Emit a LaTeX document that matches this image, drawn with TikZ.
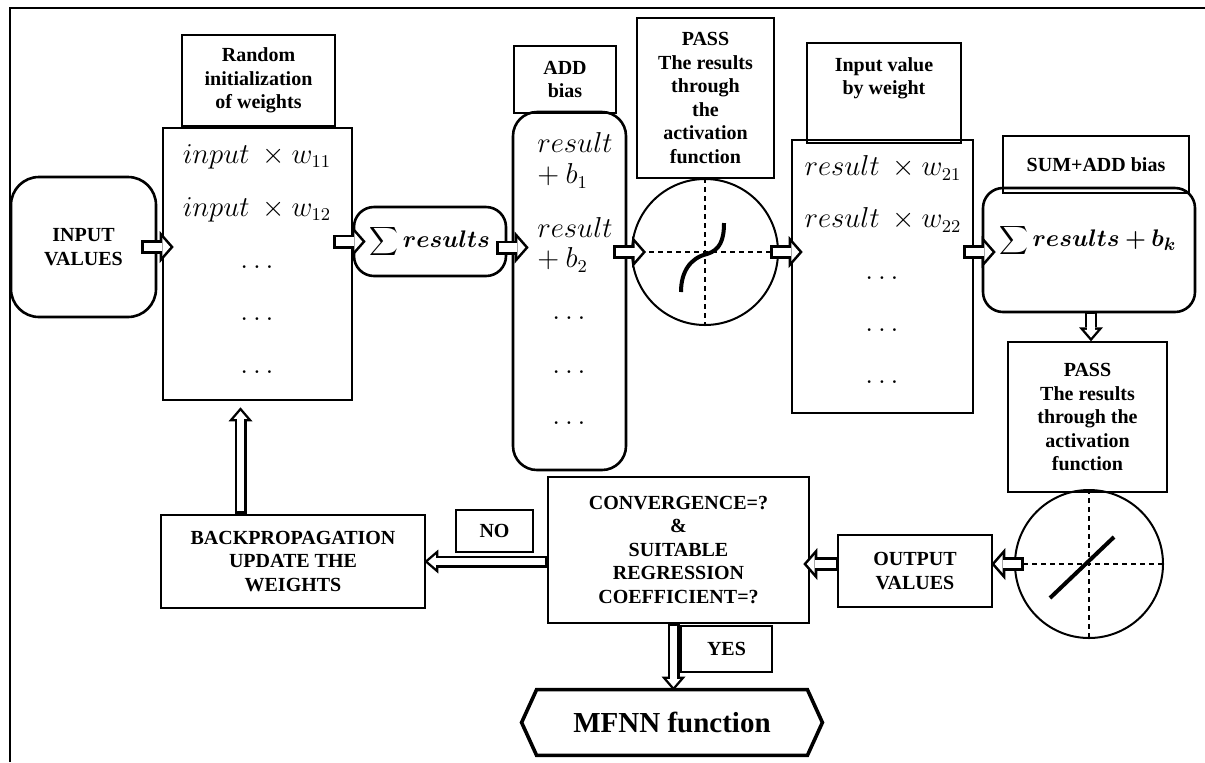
\documentclass[tikz,border=0pt]{standalone}
\usepackage{fontspec}
\setmainfont{Liberation Serif}
\usepackage{bm}
\usetikzlibrary{positioning,calc,arrows.meta}

% hollow block arrow: outer black, inner white
\newcommand{\harrow}[3]{\draw[#1] #2 -- #3; \draw[#1in] #2 -- #3;}

\begin{document}
\begin{tikzpicture}[x=0.5pt,y=-0.5pt]
\tikzstyle{lbl}=[draw,line width=0.65pt,align=center,inner sep=0pt,font=\fontsize{10}{11.75}\selectfont\bfseries]
\tikzstyle{blk}=[draw,line width=1.3pt,align=center,inner sep=0pt,font=\fontsize{10}{11.75}\selectfont\bfseries]
\tikzstyle{rblk}=[blk,rounded corners=10pt]
\tikzstyle{mth}=[inner sep=0pt,font=\fontsize{13.5}{16}\selectfont]
\tikzstyle{actv}=[circle,draw,line width=1pt,inner sep=0pt]
\tikzstyle{axis}=[line width=0.7pt,dash pattern=on 2.5pt off 2pt]
\tikzstyle{bigarr}=[line width=7pt,-{Triangle[length=7pt,width=16pt,line width=0pt]}]
\tikzstyle{bigarrin}=[white,line width=4.4pt,shorten <=1.3pt,shorten >=1.73pt,-{Triangle[length=3.97pt,width=9.07pt,line width=0pt]}]
\tikzstyle{thinarr}=[line width=6pt,-{Triangle[length=7pt,width=12pt,line width=0pt]}]
\tikzstyle{thinarrin}=[white,line width=3.6pt,shorten <=1.2pt,shorten >=1.84pt,-{Triangle[length=3.96pt,width=6.79pt,line width=0pt]}]
\useasboundingbox (0,0) rectangle (1205,762);
%%%%%%%%%%%%%%%%%%%%%%%%%%%%%%%%%%%%%%%%%%%%%%%%%%%%%%%%%%%%%%%%%%%%%%%%%%%%%%%%%%%%%%%%
%% Frame
%%%%%%%%%%%%%%%%%%%%%%%%%%%%%%%%%%%%%%%%%%%%%%%%%%%%%%%%%%%%%%%%%%%%%%%%%%%%%%%%%%%%%%%%
\draw[line width=1pt] (10,762) -- (10,8) -- (1205,8);
%%%%%%%%%%%%%%%%%%%%%%%%%%%%%%%%%%%%%%%%%%%%%%%%%%%%%%%%%%%%%%%%%%%%%%%%%%%%%%%%%%%%%%%%
%% Upper row
%%%%%%%%%%%%%%%%%%%%%%%%%%%%%%%%%%%%%%%%%%%%%%%%%%%%%%%%%%%%%%%%%%%%%%%%%%%%%%%%%%%%%%%%
% input and first weights
\node[rblk,rounded corners=14pt,minimum width=72.5pt,minimum height=70pt] (inval) at (83.5,247) {INPUT\\VALUES};
\node[lbl,minimum width=76.5pt,minimum height=45.5pt] (randlbl) at (258.5,80.5) {Random\\initialization\\of weights};
\node[blk,minimum width=94.5pt,minimum height=136pt] (w1) at (257.5,264) {};
\node[mth] (w1a) at (257,157) {$input\ \times w_{11}$};
\node[mth] (w1b) at (257,210) {$input\ \times w_{12}$};
\foreach \y/\i in {267/c,319/d,372/e}
  \node[mth] (w1\i) at (257,\y) {$\dots$};

% sum
\node[rblk,minimum width=76pt,minimum height=34.5pt,font=\fontsize{12.5}{14}\selectfont] (sum) at (430,241.5) {$\displaystyle\sum\bm{results}$};

% bias
\node[lbl,minimum width=51pt,minimum height=33.5pt] (addlbl) at (565,79.5) {ADD\\bias};
\node[rblk,rounded corners=12pt,minimum width=56.5pt,minimum height=179pt] (bias) at (569.5,291) {};
\node[mth,anchor=west] (b1a) at (537,142) {$result$};
\node[mth,anchor=west] (b1b) at (537,176) {$+\:b_1$};
\node[mth,anchor=west] (b2a) at (537,227) {$result$};
\node[mth,anchor=west] (b2b) at (537,260) {$+\:b_2$};
\foreach \y/\i in {318/c,372/d,423/e}
  \node[mth] (bias\i) at (569,\y) {$\dots$};

% first activation
\node[lbl,minimum width=68.5pt,minimum height=80pt] (pass1) at (705.5,98) {PASS\\The results\\through\\the\\activation\\function};
\node[actv,minimum size=73pt] (c1) at (705,252) {};
\draw[axis] (c1.north) -- (c1.south);
\draw[axis] (c1.west) -- (c1.east);
\draw[line width=2pt] ($(c1)+(-24,40)$) .. controls ($(c1)+(-24,20)$) and ($(c1)+(-15,6)$) .. ($(c1)+(2,2)$) .. controls ($(c1)+(15,-2)$) and ($(c1)+(19,-12)$) .. ($(c1)+(19,-29)$);

% second weights
\node[lbl,minimum width=77pt,minimum height=50pt] (wlbl) at (884,93) {};
\node[inner sep=0pt,align=center,font=\fontsize{10}{11.75}\selectfont\bfseries] (wtxt) at (884,78.5) {Input value\\by weight};
\node[blk,minimum width=90.5pt,minimum height=136.5pt] (w2) at (882.5,276.5) {};
\node[mth] (w2a) at (883,168) {$result\ \times w_{21}$};
\node[mth] (w2b) at (883,220) {$result\ \times w_{22}$};
\foreach \y/\i in {278/c,330/d,382/e}
  \node[mth] (w2\i) at (882,\y) {$\dots$};

% sum and bias
\node[lbl,minimum width=93pt,minimum height=28.5pt] (sumlbl) at (1096,164.5) {SUM+ADD bias};
\node[rblk,minimum width=106pt,minimum height=62pt] (sumbias) at (1089,250) {};
\node[mth,font=\fontsize{13}{15}\selectfont] (sbtxt) at (1088,240) {$\displaystyle\sum\bm{results+b_k}$};

% second activation
\node[lbl,minimum width=79.5pt,minimum height=75pt] (pass2) at (1087.5,417) {PASS\\The results\\through the\\activation\\function};
\node[actv,minimum size=74pt] (c2) at (1089,564) {};
\draw[axis] (c2.north) -- (c2.south);
\draw[axis] (c2.west) -- (c2.east);
\draw[line width=2pt] ($(c2)+(-39,34)$) -- ($(c2)+(25,-27)$);
%%%%%%%%%%%%%%%%%%%%%%%%%%%%%%%%%%%%%%%%%%%%%%%%%%%%%%%%%%%%%%%%%%%%%%%%%%%%%%%%%%%%%%%%
%% Lower row
%%%%%%%%%%%%%%%%%%%%%%%%%%%%%%%%%%%%%%%%%%%%%%%%%%%%%%%%%%%%%%%%%%%%%%%%%%%%%%%%%%%%%%%%
\node[blk,minimum width=77pt,minimum height=36pt] (out) at (915,571) {OUTPUT\\VALUES};
\node[blk,minimum width=130.5pt,minimum height=73pt] (conv) at (678.5,550) {CONVERGENCE=?\\\&\\SUITABLE\\REGRESSION\\COEFFICIENT=?};
\node[blk,minimum width=38.5pt,minimum height=21pt] (nolbl) at (494.5,531) {NO};
\node[blk,minimum width=132pt,minimum height=46.5pt] (bp) at (293,561.5) {BACKPROPAGATION\\UPDATE THE\\WEIGHTS};
\node[blk,minimum width=45.5pt,minimum height=23pt] (yeslbl) at (726.5,649) {YES};
\node[inner sep=0pt,minimum width=150pt,minimum height=32.5pt,font=\fontsize{14.5}{17}\selectfont\bfseries] (mfnn) at (672,722.5) {MFNN function};
\draw[line width=1.8pt] ($(mfnn.north west)+(15,0)$) -- ($(mfnn.north east)+(-15,0)$) -- (mfnn.east) -- ($(mfnn.south east)+(-15,0)$) -- ($(mfnn.south west)+(15,0)$) -- (mfnn.west) -- cycle;
%%%%%%%%%%%%%%%%%%%%%%%%%%%%%%%%%%%%%%%%%%%%%%%%%%%%%%%%%%%%%%%%%%%%%%%%%%%%%%%%%%%%%%%%
%% Draw connections
%%%%%%%%%%%%%%%%%%%%%%%%%%%%%%%%%%%%%%%%%%%%%%%%%%%%%%%%%%%%%%%%%%%%%%%%%%%%%%%%%%%%%%%%
\harrow{bigarr}{($(inval.east)+(-16,0)$)}{($(w1.west|-inval.east)+(12,0)$)}
\harrow{bigarr}{($(w1.east|-sum.west)+(-20,0)$)}{($(sum.west)+(13,0)$)}
\harrow{bigarr}{($(sum.east)+(-11,6)$)}{($(bias.west|-sum.east)+(17,6)$)}
\harrow{bigarr}{($(bias.east|-c1.west)+(-14,0)$)}{($(c1.west)+(15,0)$)}
\harrow{bigarr}{($(c1.east)+(-9,0)$)}{($(w2.west|-c1.east)+(12,0)$)}
\harrow{bigarr}{($(w2.east|-c1.east)+(-11,0)$)}{($(sumbias.west|-c1.east)+(14,0)$)}
\harrow{thinarr}{($(sumbias.south)+(2,-2)$)}{($(pass2.north)+(3.5,0)$)}
\harrow{bigarr}{($(c2.west)+(10,0)$)}{($(out.east|-c2.west)+(-2,0)$)}
\harrow{bigarr}{($(out.west|-c2.west)+(2,0)$)}{($(conv.east|-c2.west)+(-7,0)$)}
\harrow{thinarr}{($(conv.west|-bp.east)+(1,0)$)}{($(bp.east)+(-2,0)$)}
\harrow{thinarr}{($(w1.south|-bp.north)+(-17,0)$)}{($(w1.south)+(-17,6)$)}
\harrow{thinarr}{($(conv.south)+(-5,-1)$)}{($(mfnn.north-|conv.south)+(-5,1)$)}
%%%%%%%%%%%%%%%%%%%%%%%%%%%%%%%%%%%%%%%%%%%%%%%%%%%%%%%%%%%%%%%%%%%%%%%%%%%%%%%%%%%%%%%%

\end{tikzpicture}
\end{document}
